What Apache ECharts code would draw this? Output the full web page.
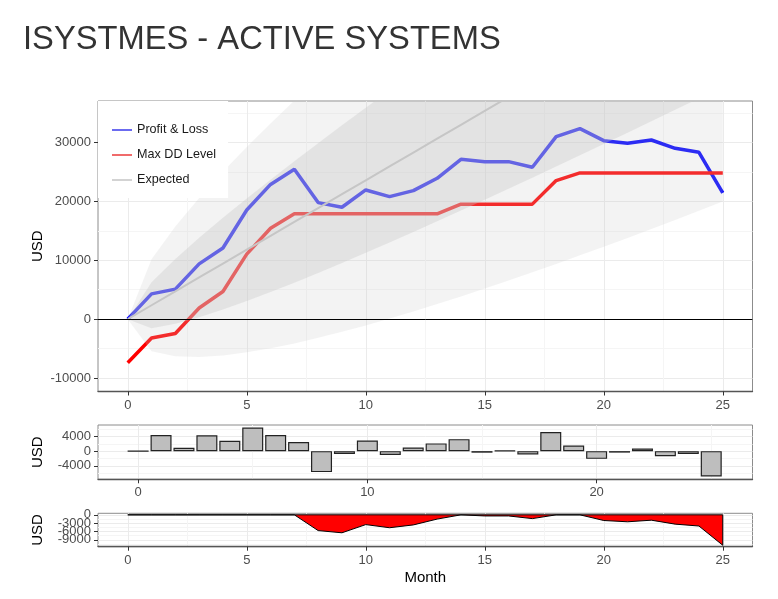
<!DOCTYPE html>
<html lang="en" style="height: 100%">
<head>
    <meta charset="utf-8">
</head>
<body style="height: 100%; margin: 0; background: #fff">
<div id="container" style="width: 778px; height: 599px"></div>
<script type="text/javascript" src="https://cdn.jsdelivr.net/npm/echarts@6/dist/echarts.min.js"></script>
<script type="text/javascript">

    // month index, shared by all three panels
    const months = [0, 1, 2, 3, 4, 5, 6, 7, 8, 9, 10, 11, 12, 13, 14, 15, 16, 17, 18, 19, 20, 21, 22, 23, 24, 25];

    // top panel
    const profitLoss = [0, 4300, 5100, 9400, 12100, 18560, 22900, 25470, 19810, 19020, 21960, 20830, 21850,
        23940, 27170, 26770, 26770, 25810, 31020, 32380, 30340, 29880, 30450, 29040, 28360, 21450];
    const maxDDLevel = [-7400, -3200, -2450, 1900, 4700, 11050, 15450, 17900, 17900, 17900, 17900, 17900, 17900,
        17900, 19550, 19550, 19550, 19550, 23550, 24850, 24850, 24850, 24850, 24850, 24850, 24850];
    const expected = [0, 2360, 4720, 7080, 9440, 11800, 14160, 16520, 18880, 21240, 23600, 25960, 28320,
        30680, 33040, 35400, 37760, 40120, 42480, 44840, 47200, 49560, 51920, 54280, 56640, 59000];
    const innerLow = [0, -1540, -800, 330, 1640, 3080, 4610, 6200, 7850, 9540, 11270, 13030, 14810,
        16620, 18450, 20300, 22160, 24040, 25930, 27840, 29760, 31690, 33630, 35580, 37540, 39500];
    const innerHigh = [0, 6260, 10240, 13840, 17240, 20520, 23710, 26840, 29910, 32940, 35930, 38900, 41830,
        44740, 47630, 50510, 53360, 56200, 59030, 61840, 64640, 67430, 70210, 72990, 75750, 78500];
    const outerLow = [0, -5440, -6310, -6430, -6160, -5640, -4950, -4120, -3180, -2160, -1070, 90, 1300,
        2560, 3850, 5190, 6560, 7960, 9390, 10840, 12320, 13810, 15330, 16870, 18430, 20000];
    const outerHigh = [0, 10160, 15750, 20590, 25040, 29240, 33270, 37160, 40940, 44640, 48270, 51830, 55340,
        58800, 62230, 65610, 68960, 72280, 75570, 78840, 82080, 85310, 88510, 91690, 94850, 98000];

    // middle panel: monthly result
    const monthly = [0, 4400, 900, 4300, 2800, 6400, 4400, 2500, -5700, -750, 2900, -1050, 1000,
        2100, 3250, -420, 100, -880, 5200, 1500, -2100, -400, 700, -1400, -750, -6900];

    // bottom panel: drawdown
    const drawdown = [0, 0, 0, 0, 0, 0, 0, 0, -5660, -6450, -3510, -4640, -3620,
        -1530, 0, -400, -400, -1360, 0, 0, -2040, -2500, -1930, -3340, -4020, -10930];

    // tick labels
    const mainXTicks = [0, 5, 10, 15, 20, 25];
    const mainXMinor = [2.5, 7.5, 12.5, 17.5, 22.5];
    const mainYTicks = [-10000, 0, 10000, 20000, 30000];
    const mainYMinor = [-5000, 5000, 15000, 25000, 35000];
    const barXTicks = [0, 10, 20];
    const barXMinor = [5, 15, 25];
    const barYTicks = [-4000, 0, 4000];
    const barYMinor = [-6000, -2000, 2000, 6000];
    const ddYTicks = [-9000, -6000, -3000, 0];
    const ddYMinor = [-10500, -7500, -4500, -1500];

    const font = "'Liberation Sans', Arial, sans-serif";

    const pairs = (ys) => months.map((m, i) => [m, ys[i]]);

    function majorAxis(grid, min, max, ticks, extra) {
        return Object.assign({
            type: 'value',
            gridIndex: grid,
            min: min,
            max: max,
            axisLine: {show: false, onZero: false},
            axisTick: {show: true, customValues: ticks, length: 4, lineStyle: {color: '#333'}},
            axisLabel: {
                customValues: ticks, fontSize: 13, color: '#4d4d4d', fontFamily: font, margin: 7,
                showMinLabel: true, showMaxLabel: true, hideOverlap: false,
                formatter: v => String(v)
            },
            splitLine: {show: true, lineStyle: {color: '#ebebeb', width: 1}}
        }, extra);
    }

    function minorAxis(grid, min, max, ticks) {
        return {
            type: 'value',
            gridIndex: grid,
            min: min,
            max: max,
            axisLine: {show: false, onZero: false},
            axisLabel: {show: false},
            axisTick: {show: false, customValues: ticks},
            splitLine: {show: true, lineStyle: {color: '#f5f5f5', width: 1}}
        };
    }

    // shaded band between two edges, drawn as one polygon through the axes
    function band(low, high, fill) {
        return function (params, api) {
            const pts = [];
            for (let i = 0; i < months.length; i++) {
                pts.push(api.coord([months[i], high[i]]));
            }
            for (let i = months.length - 1; i >= 0; i--) {
                pts.push(api.coord([months[i], low[i]]));
            }
            const cs = params.coordSys;
            return {
                type: 'polygon',
                shape: {points: pts},
                style: {fill: fill},
                clipPath: {type: 'rect', shape: {x: cs.x, y: cs.y, width: cs.width, height: cs.height}}
            };
        };
    }

    const xLine = {show: true, onZero: false, lineStyle: {color: '#555', width: 1.3}};
    const usdName = {
        name: 'USD', nameLocation: 'middle', nameRotate: 90, nameGap: 53, nameMoveOverlap: false,
        nameTextStyle: {fontSize: 15, color: '#000', fontFamily: font}
    };

    var dom = document.getElementById('container');
    var myChart = echarts.init(dom, null, {renderer: 'canvas'});

    const gridBox = {show: true, borderColor: '#8c8c8c', borderWidth: 1, outerBoundsMode: 'none'};

    // the drawdown labels crowd each other in the original; split them over two
    // left axes so that none of them gets dropped
    const ddTicksA = ddYTicks.filter((v, i) => i % 2 === 1);
    const ddTicksB = ddYTicks.filter((v, i) => i % 2 === 0);

    const option = {
        animation: false,
        backgroundColor: '#fff',
        title: {
            text: 'ISYSTMES - ACTIVE SYSTEMS',
            left: 23,
            top: 23,
            padding: 0,
            textStyle: {fontSize: 32.7, fontWeight: 'normal', color: '#333', fontFamily: font}
        },
        legend: {
            left: 98,
            top: 101,
            orient: 'vertical',
            backgroundColor: '#fff',
            padding: [22, 12, 11, 14],
            itemGap: 11,
            itemWidth: 20,
            itemHeight: 2,
            icon: 'rect',
            selectedMode: false,
            z: 10,
            textStyle: {fontSize: 12.6, lineHeight: 14, color: '#1a1a1a', fontFamily: font},
            data: [
                {name: 'Profit & Loss', itemStyle: {color: '#6b6bf0'}},
                {name: 'Max DD Level', itemStyle: {color: '#f06b6b'}},
                {name: 'Expected', itemStyle: {color: '#d3d3d3'}}
            ]
        },
        grid: [
            Object.assign({left: 98, top: 101, width: 654.5, height: 290.5}, gridBox),
            Object.assign({left: 98, top: 425, width: 654.5, height: 54.3}, gridBox),
            Object.assign({left: 98, top: 513.3, width: 654.5, height: 33.4}, gridBox)
        ],
        xAxis: [
            majorAxis(0, -1.25, 26.25, mainXTicks, {axisLine: xLine}),
            minorAxis(0, -1.25, 26.25, mainXMinor),
            majorAxis(1, -1.75, 26.8, barXTicks, {axisLine: xLine}),
            minorAxis(1, -1.75, 26.8, barXMinor),
            majorAxis(2, -1.25, 26.25, mainXTicks, {
                axisLine: xLine,
                name: 'Month', nameLocation: 'middle', nameGap: 24, nameMoveOverlap: false,
                nameTextStyle: {fontSize: 15, color: '#000', fontFamily: font}
            }),
            minorAxis(2, -1.25, 26.25, mainXMinor)
        ],
        yAxis: [
            majorAxis(0, -12300, 37080, mainYTicks, usdName),
            minorAxis(0, -12300, 37080, mainYMinor),
            majorAxis(1, -7650, 7100, barYTicks, usdName),
            minorAxis(1, -7650, 7100, barYMinor),
            majorAxis(2, -11450, 550, ddTicksA, Object.assign({position: 'left', offset: 0}, usdName)),
            minorAxis(2, -11450, 550, ddYMinor),
            majorAxis(2, -11450, 550, ddTicksB, {position: 'left', offset: 0})
        ],
        series: [
            {
                name: 'Profit & Loss', type: 'line', xAxisIndex: 0, yAxisIndex: 0, z: 2,
                data: pairs(profitLoss), showSymbol: false, symbol: 'none',
                lineStyle: {color: '#0000ff', width: 3.5}, itemStyle: {color: '#0000ff'}
            },
            {
                name: 'Max DD Level', type: 'line', xAxisIndex: 0, yAxisIndex: 0, z: 2,
                data: pairs(maxDDLevel), showSymbol: false, symbol: 'none',
                lineStyle: {color: '#ff0000', width: 3.5}, itemStyle: {color: '#ff0000'}
            },
            // confidence bands sit on top of the lines and wash them out
            {
                name: 'outerBand', type: 'custom', xAxisIndex: 0, yAxisIndex: 0, z: 3, silent: true,
                data: [[months[0], 0]], renderItem: band(outerLow, outerHigh, 'rgba(200,200,200,0.22)')
            },
            {
                name: 'innerBand', type: 'custom', xAxisIndex: 0, yAxisIndex: 0, z: 3, silent: true,
                data: [[months[0], 0]], renderItem: band(innerLow, innerHigh, 'rgba(200,200,200,0.36)')
            },
            {
                name: 'Expected', type: 'line', xAxisIndex: 0, yAxisIndex: 0, z: 4,
                data: pairs(expected), showSymbol: false, symbol: 'none',
                lineStyle: {color: '#c6c6c6', width: 2}, itemStyle: {color: '#c6c6c6'},
                markLine: {
                    silent: true, symbol: 'none', label: {show: false},
                    lineStyle: {color: '#000', width: 1, type: 'solid'},
                    data: [{yAxis: 0}]
                }
            },
            {
                name: 'Monthly', type: 'bar', xAxisIndex: 2, yAxisIndex: 2,
                data: pairs(monthly), barWidth: 21,
                itemStyle: {color: '#bebebe', borderColor: '#222', borderWidth: 1.2}
            },
            {
                name: 'Drawdown', type: 'line', xAxisIndex: 4, yAxisIndex: 4,
                data: pairs(drawdown).concat([[months[months.length - 1], 0], [months[0], 0]]),
                showSymbol: false, symbol: 'none',
                lineStyle: {color: '#000', width: 1}, areaStyle: {color: '#ff0000', opacity: 1}
            }
        ]
    };

    myChart.setOption(option);
    window.addEventListener('resize', myChart.resize);

</script>
</body>
</html>
